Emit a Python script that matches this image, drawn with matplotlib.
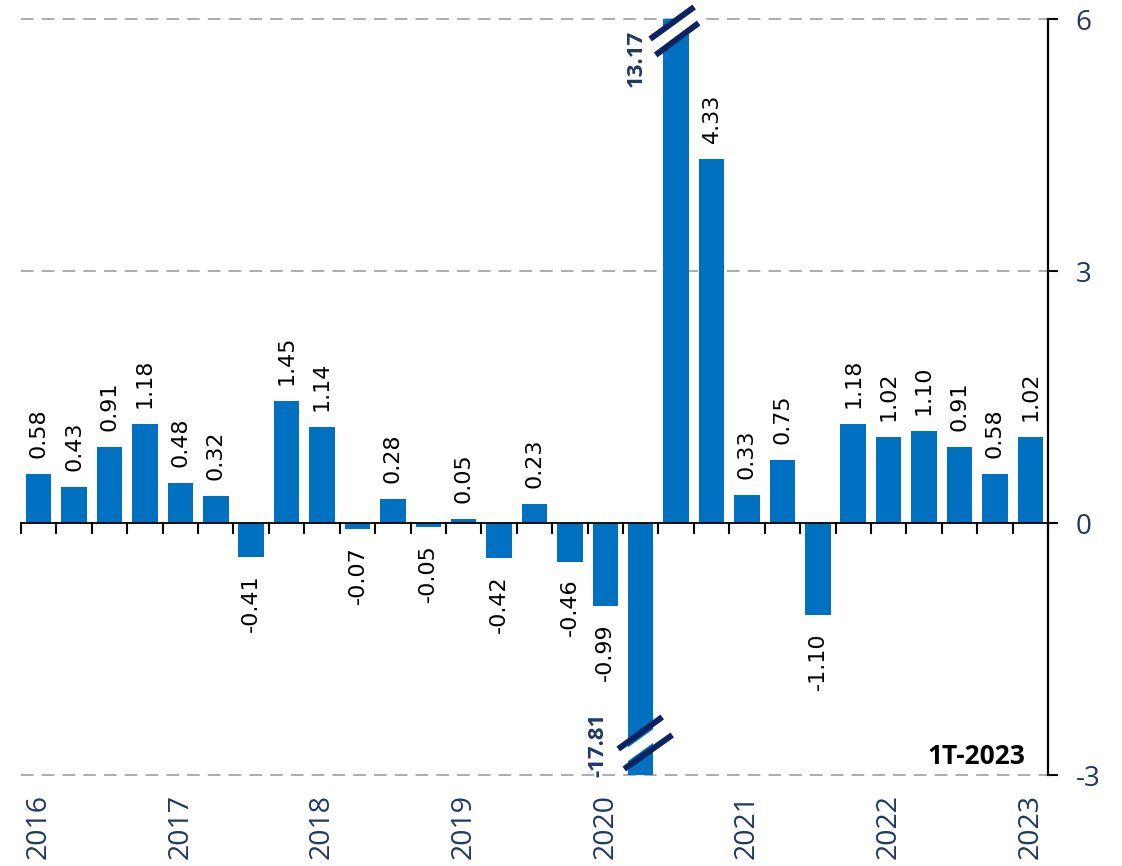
import matplotlib
matplotlib.use("Agg")
import matplotlib.pyplot as plt
from matplotlib.lines import Line2D
from matplotlib.transforms import IdentityTransform, offset_copy, blended_transform_factory

# ---- data ----
quarters = ["2016T1", "2016T2", "2016T3", "2016T4",
            "2017T1", "2017T2", "2017T3", "2017T4",
            "2018T1", "2018T2", "2018T3", "2018T4",
            "2019T1", "2019T2", "2019T3", "2019T4",
            "2020T1", "2020T2", "2020T3", "2020T4",
            "2021T1", "2021T2", "2021T3", "2021T4",
            "2022T1", "2022T2", "2022T3", "2022T4",
            "2023T1"]
values = [0.58, 0.43, 0.91, 1.18,
          0.48, 0.32, -0.41, 1.45,
          1.14, -0.07, 0.28, -0.05,
          0.05, -0.42, 0.23, -0.46,
          -0.99, -17.81, 13.17, 4.33,
          0.33, 0.75, -1.10, 1.18,
          1.02, 1.10, 0.91, 0.58,
          1.02]
year_labels = ["2016", "2017", "2018", "2019", "2020", "2021", "2022", "2023"]
y_ticks = [-3, 0, 3, 6]
y_min, y_max = -3, 6
period_label = "1T-2023"

BAR = "#0070C0"
NAVY = "#1F3864"
BREAK = "#0B2361"
GRID = "#A6A6A6"

W, H = 1122, 866
fig = plt.figure(figsize=(W / 100, H / 100), dpi=100)
ax = fig.add_axes([21 / W, 1 - 775 / H, (1048 - 21) / W, (775 - 19) / H])

n = len(values)
x = list(range(n))
ax.bar(x, values, width=0.72, color=BAR, zorder=2)
ax.set_xlim(-0.5, n - 0.5)
ax.set_ylim(y_min, y_max)

# grid lines (dashed) except at zero
for yv in y_ticks:
    if yv != 0:
        ax.axhline(yv, color=GRID, lw=1.3, dashes=(7, 4.5), zorder=1, clip_on=False)

# zero axis
ax.axhline(0, color="black", lw=1.3, zorder=3)
for s in ["left", "top", "bottom"]:
    ax.spines[s].set_visible(False)
ax.spines["right"].set_linewidth(1.6)
ax.spines["right"].set_zorder(4)

# x ticks at bar boundaries on the zero line
for k in range(n + 1):
    p = ax.transData.transform((k - 0.5, 0))
    fig.add_artist(Line2D([p[0], p[0]], [p[1], p[1] - 10], transform=IdentityTransform(),
                          color="black", lw=1.5, zorder=3))
ax.set_xticks([])

# right y axis
ax.yaxis.tick_right()
ax.set_yticks(y_ticks)
ax.set_yticklabels([str(v) for v in y_ticks])
ax.tick_params(axis="y", direction="out", length=7, width=1.5, pad=13,
               labelsize=20, labelcolor=NAVY)
for lab in ax.get_yticklabels():
    lab.set_fontfamily("Open Sans")

# year labels under Q1 bars
bt = blended_transform_factory(ax.transData, ax.transAxes)
for i, yl in enumerate(year_labels):
    t = offset_copy(bt, fig=fig, x=0, y=-19, units="dots")
    ax.text(i * 4, 0, yl, transform=t, rotation=90, ha="center", va="top",
            fontsize=20.5, color=NAVY, family="Open Sans", clip_on=False)

# value labels
for i, v in enumerate(values):
    if v > y_max:
        t = offset_copy(ax.transData, fig=fig, x=-40, y=-11, units="dots")
        ax.text(i, y_max, f"{v:.2f}", transform=t, rotation=90, ha="center", va="top",
                fontsize=16, fontweight="bold", color=NAVY, family="Open Sans")
    elif v < y_min:
        t = offset_copy(ax.transData, fig=fig, x=-43, y=-2, units="dots")
        ax.text(i, y_min, f"{v:.2f}", transform=t, rotation=90, ha="center", va="bottom",
                fontsize=16, fontweight="bold", color=NAVY, family="Open Sans", clip_on=False)
    elif v >= 0:
        t = offset_copy(ax.transData, fig=fig, x=0, y=16, units="dots")
        ax.text(i, v, f"{v:.2f}", transform=t, rotation=90, ha="center", va="bottom",
                fontsize=16, color="black")
    else:
        t = offset_copy(ax.transData, fig=fig, x=0, y=-17, units="dots")
        ax.text(i, v, f"{v:.2f}", transform=t, rotation=90, ha="center", va="top",
                fontsize=16, color="black")

# break marks on clipped bars
def pix_line(anchor, p0, p1, **kw):
    a = ax.transData.transform(anchor)
    xs = [a[0] + p0[0], a[0] + p1[0]]
    ys = [a[1] - p0[1], a[1] - p1[1]]
    fig.add_artist(Line2D(xs, ys, transform=IdentityTransform(), solid_capstyle="butt", **kw))

for i, v in enumerate(values):
    if v > y_max:
        anc = (i, y_max)
        pix_line(anc, (-23, 28), (20, -4), color="white", lw=8, zorder=5)
        pix_line(anc, (-26, 20), (18, -12), color=BREAK, lw=4.3, zorder=6)
        pix_line(anc, (-20.5, 36), (22.5, 4), color=BREAK, lw=4.3, zorder=6)
    elif v < y_min:
        anc = (i, y_min)
        pix_line(anc, (-19.5, -16), (26.5, -49), color="white", lw=8, zorder=5)
        pix_line(anc, (-22.5, -26), (21.5, -58), color=BREAK, lw=4.3, zorder=6)
        pix_line(anc, (-16.5, -6), (31.5, -40), color=BREAK, lw=4.3, zorder=6)

# period label
ax.text(0.9776, 0.024, period_label, transform=ax.transAxes, ha="right", va="center",
        fontsize=19, fontweight="bold", color="black", family="Open Sans")

fig.savefig("out.png", dpi=100)
